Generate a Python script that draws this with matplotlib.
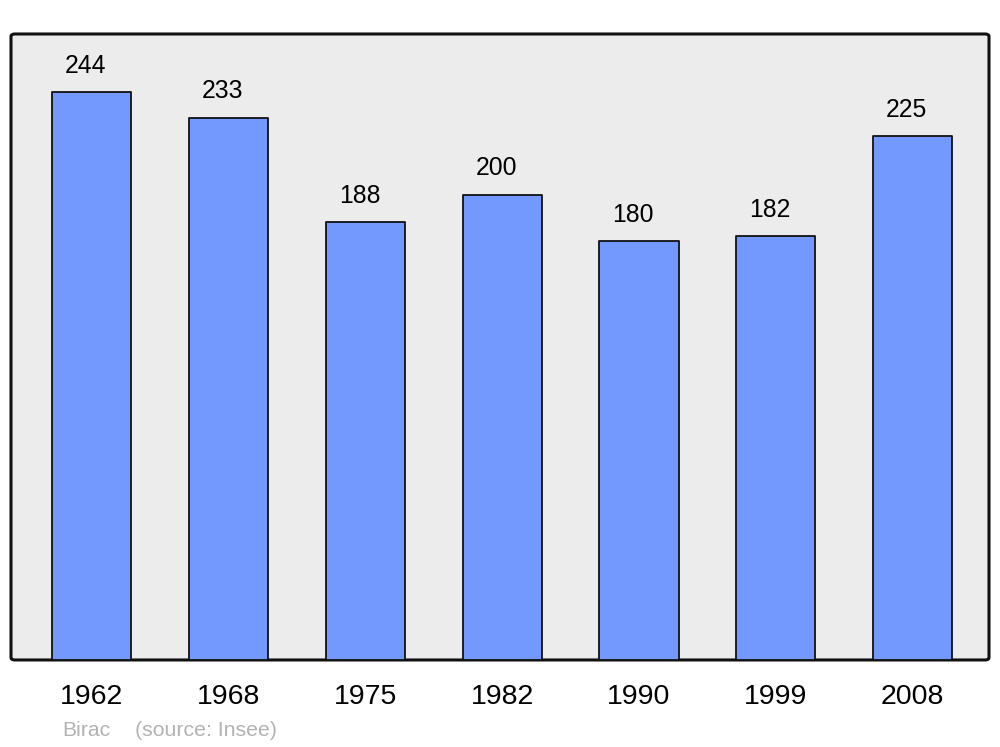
import matplotlib.pyplot as plt
from matplotlib.patches import FancyBboxPatch

years = ['1962', '1968', '1975', '1982', '1990', '1999', '2008']
population = [244, 233, 188, 200, 180, 182, 225]
commune = 'Birac'
source = '(source: Insee)'

plt.rcParams['font.family'] = ['Liberation Sans', 'DejaVu Sans']

fig = plt.figure(figsize=(10, 7.47), dpi=100)
ax = fig.add_axes([0.011, 0.1165, 0.978, 0.838])
ax.set_facecolor('none')

# rounded frame
frame = FancyBboxPatch((0, 0), 1, 1, boxstyle='round,pad=0,rounding_size=0.004',
                       transform=ax.transAxes, facecolor='#ececec',
                       edgecolor='#111111', linewidth=2.2, zorder=0, clip_on=False)
ax.add_patch(frame)
for s in ax.spines.values():
    s.set_visible(False)

x = range(len(years))
bars = ax.bar(x, population, width=0.578, color='#7399ff', edgecolor='#111111',
              linewidth=1.3, zorder=2)
for b in bars:
    b.set_joinstyle('round')

for xi, v in zip(x, population):
    ax.annotate(str(v), (xi, v), xytext=(-4.3, 19), textcoords='offset points',
                ha='center', va='center', fontsize=17.8, color='black')

ax.set_xlim(-0.592, 6.559)
ax.set_ylim(0, 269)
ax.set_yticks([])
ax.set_xticks(list(x))
ax.set_xticklabels(years, fontsize=20.5)
ax.tick_params(axis='x', length=0, pad=17)

fig.text(0.062, 0.0225, commune, fontsize=15.3, color='#b3b3b3', va='center', ha='left')
fig.text(0.135, 0.0225, source, fontsize=15.3, color='#b3b3b3', va='center', ha='left')

fig.savefig('out.png', dpi=100)
